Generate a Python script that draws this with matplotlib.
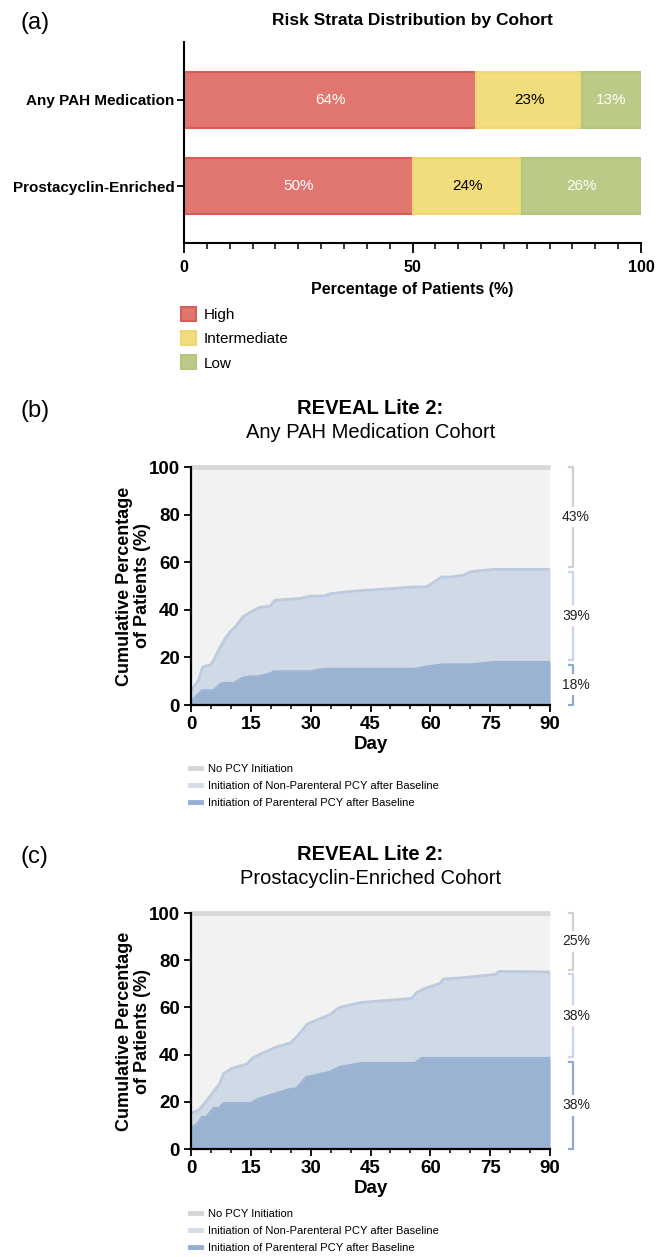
import numpy as np
import matplotlib
matplotlib.use('Agg')
import matplotlib.pyplot as plt
from matplotlib.patches import Patch
from matplotlib.lines import Line2D
from matplotlib.ticker import MultipleLocator
from matplotlib.transforms import blended_transform_factory

plt.rcParams['font.family'] = ['Liberation Sans', 'DejaVu Sans']

# ---- (a) risk strata ----
cohorts = ['Any PAH Medication', 'Prostacyclin-Enriched']
strata = ['High', 'Intermediate', 'Low']
high = [64, 50]
intermediate = [23, 24]
low = [13, 26]

# ---- (b) any PAH medication cohort ----
b_total_day = [0, 1.9, 2.9, 4.8, 5.6, 7.2, 8.6, 9.8, 11.1, 13, 14.9, 17, 19.9, 21,
               27.5, 30, 33.4, 35, 41, 51, 56, 59, 62.9, 65.4, 68.4, 70, 75.9, 90]
b_total_pct = [6, 10.4, 16, 16.8, 18.5, 24, 28, 30.8, 32.8, 37, 39, 40.9, 41.6, 44,
               44.8, 45.8, 45.8, 46.8, 47.9, 49, 49.6, 49.6, 53.8, 53.8, 54.6, 56, 57, 57]
b_par_day = [0, 2.7, 5.6, 7.3, 8.2, 10.7, 12.8, 14.9, 17, 19.5, 20.8, 30, 33, 56,
             59.5, 62.9, 70, 75.9, 90]
b_par_pct = [1.7, 6.3, 6.3, 9, 9.4, 9.4, 11.5, 12.2, 12.2, 13.2, 14.3, 14.3, 15.3, 15.3,
             16.4, 17.2, 17.2, 18.2, 18.2]
b_share = [43, 39, 18]

# ---- (c) prostacyclin-enriched cohort ----
c_total_day = [0, 1.9, 3.5, 5.2, 7.2, 8.2, 10.3, 14, 15.3, 17.4, 21.2, 25, 26.7, 29.2,
               32.6, 34.7, 37.2, 42.7, 55.3, 56.5, 58.2, 62.4, 63.3, 68.8, 76.4, 77.2, 90]
c_total_pct = [15.1, 16.5, 19.6, 23.3, 27.8, 32, 34.2, 36, 38.4, 40.3, 43.1, 45, 47.9, 53,
               55.4, 56.8, 60, 62.1, 63.8, 66.2, 67.7, 70.2, 72, 72.7, 74, 75.3, 75]
c_par_day = [0, 1.4, 2.7, 3.8, 5.6, 6.9, 8.2, 14.9, 17, 25, 26.3, 28.8, 34.7, 37.2,
             42.7, 56.1, 57.8, 90]
c_par_pct = [9.2, 10.6, 13.7, 13.7, 17.5, 17.5, 19.6, 19.6, 21.5, 25.7, 25.7, 30.6, 32.8,
             34.9, 36.6, 36.6, 38.7, 38.7]
c_share = [25, 38, 38]

series_labels = ['No PCY Initiation',
                 'Initiation of Non-Parenteral PCY after Baseline',
                 'Initiation of Parenteral PCY after Baseline']

W, H = 665, 1257
fig = plt.figure(figsize=(W / 100, H / 100), dpi=100)


def px_axes(left, top, right, bottom):
    return fig.add_axes([left / W, 1 - bottom / H, (right - left) / W, (bottom - top) / H])


# ================= panel (a) =================
ax = px_axes(184, 42, 641, 243)
y = np.arange(len(cohorts))
bar_h = 0.65
fills = ['#E0766F', '#F2DD7C', '#BACB88']
edges = ['#D85D58', '#EED676', '#B3C67F']
txtc = ['white', 'black', 'white']
left = np.zeros(len(cohorts))
for vals, fc, ec, tc in zip([high, intermediate, low], fills, edges, txtc):
    ax.barh(y, vals, left=left, height=bar_h, color=fc, edgecolor=ec, linewidth=1.5)
    for yi, v, l in zip(y, vals, left):
        ax.text(l + v / 2, yi, '%d%%' % v, ha='center', va='center', fontsize=11, color=tc)
    left = left + np.array(vals)

ax.set_xlim(0, 100)
ax.set_ylim(1.66, -0.67)
ax.set_yticks(y)
ax.set_yticklabels(cohorts, fontweight='bold', fontsize=11)
ax.set_xticks([0, 50, 100])
ax.set_xticklabels(['0', '50', '100'], fontweight='bold', fontsize=11.5)
ax.xaxis.set_minor_locator(MultipleLocator(5))
ax.tick_params(axis='x', which='major', length=7, width=1.3, pad=5)
ax.tick_params(axis='x', which='minor', length=4, width=1.1)
ax.tick_params(axis='y', length=5, width=1.3, pad=2)
for s in ['top', 'right']:
    ax.spines[s].set_visible(False)
for s in ['left', 'bottom']:
    ax.spines[s].set_linewidth(1.5)
ax.set_xlabel('Percentage of Patients (%)', fontweight='bold', fontsize=11.5, labelpad=5)
ax.set_title('Risk Strata Distribution by Cohort', fontweight='bold', fontsize=12.5, pad=12)

handles = [Patch(facecolor=fc, edgecolor=ec, linewidth=1.5) for fc, ec in zip(fills, edges)]
fig.legend(handles, strata, loc='upper left', bbox_to_anchor=(181 / W, 1 - 307 / H),
           frameon=False, fontsize=11, handlelength=1.0, handleheight=1.0,
           handletextpad=0.5, labelspacing=0.6, borderpad=0, borderaxespad=0)

fig.text(20 / W, 1 - 23 / H, '(a)', fontsize=17, va='center', ha='left')

# ================= panels (b), (c) =================
c_gray, c_light, c_dark = '#F2F2F2', '#CFDAE6', '#9AB3D3'
leg_cols = ['#D6D6D6', '#D3DEEA', '#93AED2']
br_cols = ['#CFCFCF', '#C9D6E7', '#8FAAD0']


def cumulative_panel(top, bottom, label, subtitle, tot_d, tot_p, par_d, par_p, share,
                     leg_top):
    ax = px_axes(191, top, 550, bottom)
    ax.fill_between([0, 90], [100, 100], 0, color=c_gray, lw=0)
    ax.plot([0, 90], [100, 100], color='#D9D9D9', lw=3.5, clip_on=False, zorder=3,
            solid_capstyle='butt')
    ax.fill_between(tot_d, tot_p, 0, color=c_light, lw=0)
    ax.plot(tot_d, tot_p, color='#BCCBDF', lw=2)
    ax.fill_between(par_d, par_p, 0, color=c_dark, lw=0)
    ax.plot(par_d, par_p, color='#98B1D2', lw=1)
    ax.set_xlim(0, 90)
    ax.set_ylim(0, 100)
    ax.set_xticks(np.arange(0, 91, 15))
    ax.set_yticks(np.arange(0, 101, 20))
    ax.xaxis.set_minor_locator(MultipleLocator(5))
    for t in ax.get_xticklabels() + ax.get_yticklabels():
        t.set_fontweight('bold')
        t.set_fontsize(13.5)
    ax.tick_params(axis='both', which='major', length=5, width=1.3, pad=3)
    ax.tick_params(axis='x', which='minor', length=3, width=1.1)
    for s in ['top', 'right']:
        ax.spines[s].set_visible(False)
    for s in ['left', 'bottom']:
        ax.spines[s].set_linewidth(1.6)
        ax.spines[s].set_zorder(4)
    ax.set_xlabel('Day', fontweight='bold', fontsize=13.5, labelpad=2)
    ax.set_ylabel('Cumulative Percentage\nof Patients (%)', fontweight='bold', fontsize=13,
                  linespacing=1.05)
    ax.yaxis.set_label_coords(-0.112, 0.5)

    # share brackets on the right
    trans = blended_transform_factory(ax.transAxes, ax.transData)
    bounds = [100, 100 - share[0], share[2], 0]
    gap = 1.0
    for i in range(3):
        y1 = bounds[i] - (gap if i > 0 else 0)
        y0 = bounds[i + 1] + (gap if i < 2 else 0)
        ax.plot([1.052, 1.064, 1.064, 1.052], [y1, y1, y0, y0], transform=trans,
                color=br_cols[i], lw=1.6, clip_on=False)
        ax.text(1.072, (y0 + y1) / 2, '%d%%' % share[i], transform=trans, ha='center',
                va='center', fontsize=10, color='#222222',
                bbox=dict(facecolor='white', edgecolor='none', pad=2.5))

    xc = (191 + 550) / 2 / W
    fig.text(xc, 1 - (top - 59) / H, 'REVEAL Lite 2:', fontweight='bold', fontsize=14.5,
             ha='center', va='center')
    fig.text(xc, 1 - (top - 35) / H, subtitle, fontsize=14.5, ha='center', va='center')
    fig.text(20 / W, 1 - (top - 56) / H, label, fontsize=17, ha='left', va='center')

    hs = [Line2D([0], [0], color=c, lw=3.5) for c in leg_cols]
    fig.legend(hs, series_labels, loc='upper left', bbox_to_anchor=(190 / W, 1 - leg_top / H),
               frameon=False, fontsize=8, handlelength=1.0, handletextpad=0.6,
               labelspacing=0.62, borderpad=0, borderaxespad=0)
    return ax


cumulative_panel(467, 705, '(b)', 'Any PAH Medication Cohort',
                 b_total_day, b_total_pct, b_par_day, b_par_pct, b_share, 764)
cumulative_panel(913, 1149, '(c)', 'Prostacyclin-Enriched Cohort',
                 c_total_day, c_total_pct, c_par_day, c_par_pct, c_share, 1209)

fig.savefig('out.png', dpi=100)
